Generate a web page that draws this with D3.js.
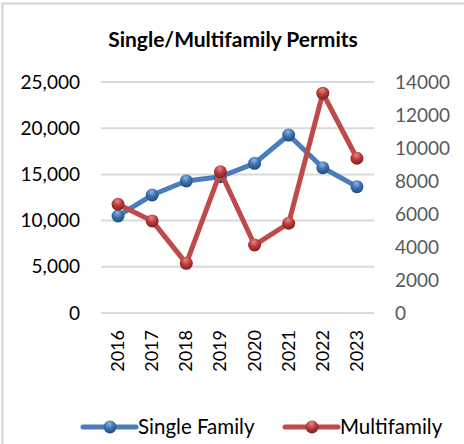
<!DOCTYPE html>
<html>
<head>
<meta charset="utf-8">
<script src="https://cdn.jsdelivr.net/npm/d3@7"></script>
<style>
  html, body { margin: 0; padding: 0; background: #fff; }
  svg { display: block; font-family: Lato, "Open Sans", sans-serif; }
</style>
</head>
<body>
<svg id="chart" width="464" height="444"></svg>
<script>
var years = ["2016", "2017", "2018", "2019", "2020", "2021", "2022", "2023"];
var singleFamily = [10500, 12770, 14290, 14750, 16200, 19260, 15720, 13670];
var multifamily = [6590, 5580, 3010, 8560, 4120, 5440, 13320, 9380];
var leftTicks = [0, 5000, 10000, 15000, 20000, 25000];
var rightTicks = [0, 2000, 4000, 6000, 8000, 10000, 12000, 14000];

var svg = d3.select("#chart");

// frame, only top and left edges show
svg.append("rect")
    .attr("x", 2.5).attr("y", 3.5)
    .attr("width", 480).attr("height", 460)
    .attr("fill", "#fff")
    .attr("stroke", "#d9d9d9")
    .attr("stroke-width", 2.5);

var defs = svg.append("defs");
function sphere(id, light, base, dark) {
    var g = defs.append("radialGradient")
        .attr("id", id)
        .attr("cx", "45%").attr("cy", "30%").attr("r", "70%")
        .attr("fx", "45%").attr("fy", "25%");
    g.append("stop").attr("offset", "0%").attr("stop-color", light);
    g.append("stop").attr("offset", "50%").attr("stop-color", base);
    g.append("stop").attr("offset", "100%").attr("stop-color", dark);
}
sphere("blueBall", "#8fb4e3", "#3d70b0", "#1f4a80");
sphere("redBall", "#e58a87", "#b83c39", "#7e1f1d");

var x = d3.scaleBand().domain(years).range([101, 374]);
var yL = d3.scaleLinear().domain([0, 25000]).range([313, 82]);
var yR = d3.scaleLinear().domain([0, 14000]).range([313, 82]);
function cx(d, i) { return x(years[i]) + x.bandwidth() / 2; }

// title
svg.append("text")
    .attr("x", 233).attr("y", 47)
    .attr("text-anchor", "middle")
    .attr("font-size", 21).attr("font-weight", "bold")
    .attr("fill", "#000")
    .text("Single/Multifamily Permits");

// gridlines
svg.append("g").selectAll("line")
    .data(leftTicks)
    .join("line")
    .attr("x1", 101).attr("x2", 374)
    .attr("y1", function(d) { return yL(d); })
    .attr("y2", function(d) { return yL(d); })
    .attr("stroke", "#d9d9d9")
    .attr("stroke-width", 2);

// left axis
var leftAxis = svg.append("g")
    .attr("transform", "translate(80,0)")
    .call(d3.axisLeft(yL).tickValues(leftTicks).tickSize(0).tickPadding(0).tickFormat(d3.format(",")));
leftAxis.select(".domain").remove();
leftAxis.selectAll("text")
    .attr("font-family", "Lato, sans-serif")
    .attr("font-size", 19).attr("fill", "#000");

// right axis
var rightAxis = svg.append("g")
    .attr("transform", "translate(395,0)")
    .call(d3.axisRight(yR).tickValues(rightTicks).tickSize(0).tickPadding(0).tickFormat(d3.format("d")));
rightAxis.select(".domain").remove();
rightAxis.selectAll("text")
    .attr("font-family", "Lato, sans-serif")
    .attr("font-size", 19).attr("fill", "#595959");

// year labels
svg.append("g").selectAll("text")
    .data(years)
    .join("text")
    .attr("transform", function(d) {
        return "translate(" + (x(d) + x.bandwidth() / 2 + 6) + ",330) rotate(-90)";
    })
    .attr("text-anchor", "end")
    .attr("font-size", 18).attr("fill", "#000")
    .text(function(d) { return d; });

function drawSeries(values, y, color, ball) {
    var line = d3.line()
        .x(cx)
        .y(function(d) { return y(d); });
    svg.append("path")
        .datum(values)
        .attr("fill", "none")
        .attr("stroke", color)
        .attr("stroke-width", 5)
        .attr("stroke-linejoin", "round")
        .attr("stroke-linecap", "round")
        .attr("d", line);
    svg.append("g").selectAll("circle")
        .data(values)
        .join("circle")
        .attr("cx", cx)
        .attr("cy", function(d) { return y(d); })
        .attr("r", 6.5)
        .attr("fill", "url(#" + ball + ")");
}
drawSeries(singleFamily, yL, "#4a7ebb", "blueBall");
drawSeries(multifamily, yR, "#be4b48", "redBall");

// legend
var legend = [
    {name: "Single Family", color: "#4a7ebb", ball: "blueBall", x0: 83},
    {name: "Multifamily", color: "#be4b48", ball: "redBall", x0: 285}
];
var lg = svg.append("g").selectAll("g").data(legend).join("g");
lg.append("line")
    .attr("x1", function(d) { return d.x0; })
    .attr("x2", function(d) { return d.x0 + 53; })
    .attr("y1", 427).attr("y2", 427)
    .attr("stroke", function(d) { return d.color; })
    .attr("stroke-width", 5)
    .attr("stroke-linecap", "round");
lg.append("circle")
    .attr("cx", function(d) { return d.x0 + 27; })
    .attr("cy", 427).attr("r", 6.5)
    .attr("fill", function(d) { return "url(#" + d.ball + ")"; });
lg.append("text")
    .attr("x", function(d) { return d.x0 + 55; })
    .attr("y", 434)
    .attr("font-size", 20.5).attr("fill", "#000")
    .text(function(d) { return d.name; });
</script>
</body>
</html>
